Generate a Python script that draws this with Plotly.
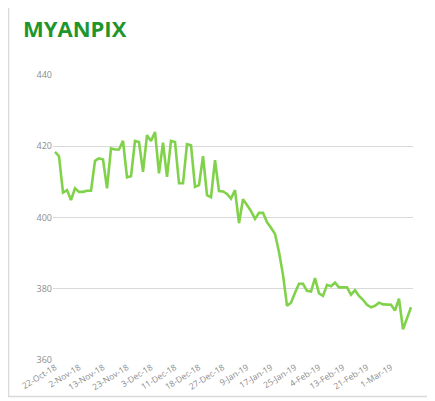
import plotly.graph_objects as go

dates = [
    "22-Oct-18", "26-Oct-18", "29-Oct-18", "30-Oct-18", "31-Oct-18", "1-Nov-18",
    "2-Nov-18", "5-Nov-18", "6-Nov-18", "7-Nov-18", "8-Nov-18", "9-Nov-18",
    "13-Nov-18", "14-Nov-18", "15-Nov-18", "16-Nov-18", "19-Nov-18", "20-Nov-18",
    "23-Nov-18", "26-Nov-18", "27-Nov-18", "28-Nov-18", "29-Nov-18", "30-Nov-18",
    "3-Dec-18", "4-Dec-18", "5-Dec-18", "6-Dec-18", "7-Dec-18", "10-Dec-18",
    "11-Dec-18", "12-Dec-18", "13-Dec-18", "14-Dec-18", "15-Dec-18", "17-Dec-18",
    "18-Dec-18", "19-Dec-18", "20-Dec-18", "21-Dec-18", "24-Dec-18", "26-Dec-18",
    "27-Dec-18", "28-Dec-18", "2-Jan-19", "3-Jan-19", "7-Jan-19", "8-Jan-19",
    "9-Jan-19", "10-Jan-19", "11-Jan-19", "14-Jan-19", "15-Jan-19", "16-Jan-19",
    "17-Jan-19", "18-Jan-19", "21-Jan-19", "22-Jan-19", "23-Jan-19", "24-Jan-19",
    "25-Jan-19", "28-Jan-19", "29-Jan-19", "30-Jan-19", "31-Jan-19", "1-Feb-19",
    "4-Feb-19", "5-Feb-19", "6-Feb-19", "7-Feb-19", "8-Feb-19", "11-Feb-19",
    "13-Feb-19", "14-Feb-19", "15-Feb-19", "18-Feb-19", "19-Feb-19", "20-Feb-19",
    "21-Feb-19", "22-Feb-19", "25-Feb-19", "26-Feb-19", "27-Feb-19", "28-Feb-19",
    "1-Mar-19", "4-Mar-19", "5-Mar-19", "6-Mar-19", "7-Mar-19", "8-Mar-19",
]

index_values = [
    418.4, 417.2, 407.0, 407.7, 404.9, 408.2,
    407.2, 407.2, 407.5, 407.5, 415.9, 416.6,
    416.3, 408.2, 419.4, 419.1, 419.1, 421.5,
    411.3, 411.6, 421.5, 421.2, 412.8, 423.1,
    421.5, 424.0, 412.4, 421.0, 411.4, 421.5,
    421.2, 409.6, 409.6, 420.6, 420.3, 408.6,
    409.1, 417.2, 406.3, 405.7, 416.1, 407.4,
    407.3, 406.6, 405.3, 407.7, 398.4, 405.1,
    403.5, 401.8, 399.6, 401.3, 401.3, 398.7,
    397.1, 395.4, 390.3, 383.9, 375.2, 376.1,
    378.9, 381.4, 381.4, 379.4, 379.2, 383.0,
    378.7, 378.0, 381.1, 380.7, 381.7, 380.4,
    380.4, 380.4, 378.3, 379.6, 378.0, 376.9,
    375.5, 374.8, 375.2, 376.1, 375.6, 375.5,
    375.5, 373.9, 377.2, 368.6, 371.8, 374.8,
]

tick_labels = [
    "22-Oct-18", "2-Nov-18", "13-Nov-18", "23-Nov-18", "3-Dec-18",
    "11-Dec-18", "18-Dec-18", "27-Dec-18", "9-Jan-19", "17-Jan-19",
    "25-Jan-19", "4-Feb-19", "13-Feb-19", "21-Feb-19", "1-Mar-19",
]

y_ticks = [360, 380, 400, 420, 440]

# page body has an 8px margin, so the figure is drawn 8px in from the window edge
OFF = 8
W, H = 435 - OFF, 401 - OFF
L, T = 53 - OFF, 74.7 - OFF
pw, ph = 360, 285.6
R = W - L - pw
B = H - T - ph

def px_x(p):
    return (p - OFF - L) / pw

def px_y(p):
    return (T + ph - (p - OFF)) / ph

fig = go.Figure()
fig.add_trace(go.Scatter(
    x=dates, y=index_values, mode="lines",
    line=dict(color="#80d24a", width=2.6),
    hoverinfo="skip", showlegend=False,
))

fig.update_layout(
    width=W, height=H,
    margin=dict(l=L, r=R, t=T, b=B, autoexpand=False),
    paper_bgcolor="white", plot_bgcolor="white",
    font=dict(family="Open Sans, Arial, sans-serif", color="#8c8c8c", size=9),
    xaxis=dict(
        type="category", range=[-0.5, len(dates) - 0.5],
        tickmode="array", tickvals=tick_labels, ticktext=tick_labels,
        tickangle=-32, showgrid=False, zeroline=False, showline=False,
        ticks="", ticklen=0, tickfont=dict(size=8.5, color="#8c8c8c"),
        automargin=False,
    ),
    yaxis=dict(
        range=[360, 440], tickmode="array", tickvals=y_ticks,
        showgrid=True, gridcolor="#d9d9d9", gridwidth=1,
        zeroline=False, showline=False, ticks="", ticklen=0,
        tickfont=dict(size=9, color="#8c8c8c"), automargin=False,
    ),
    shapes=[dict(
        type="rect", xref="paper", yref="paper",
        x0=px_x(8.5), x1=px_x(428), y0=px_y(397), y1=px_y(6.5),
        line=dict(color="#d9d9d9", width=1.5), fillcolor="rgba(0,0,0,0)",
        layer="below",
    )],
    annotations=[dict(
        text="<b>MYANPIX</b>", xref="paper", yref="paper",
        x=px_x(21), y=px_y(28), xanchor="left", yanchor="middle",
        showarrow=False,
        font=dict(family="Open Sans, sans-serif", size=22, color="#1e962b"),
    )],
)

fig.write_html("out.html")
